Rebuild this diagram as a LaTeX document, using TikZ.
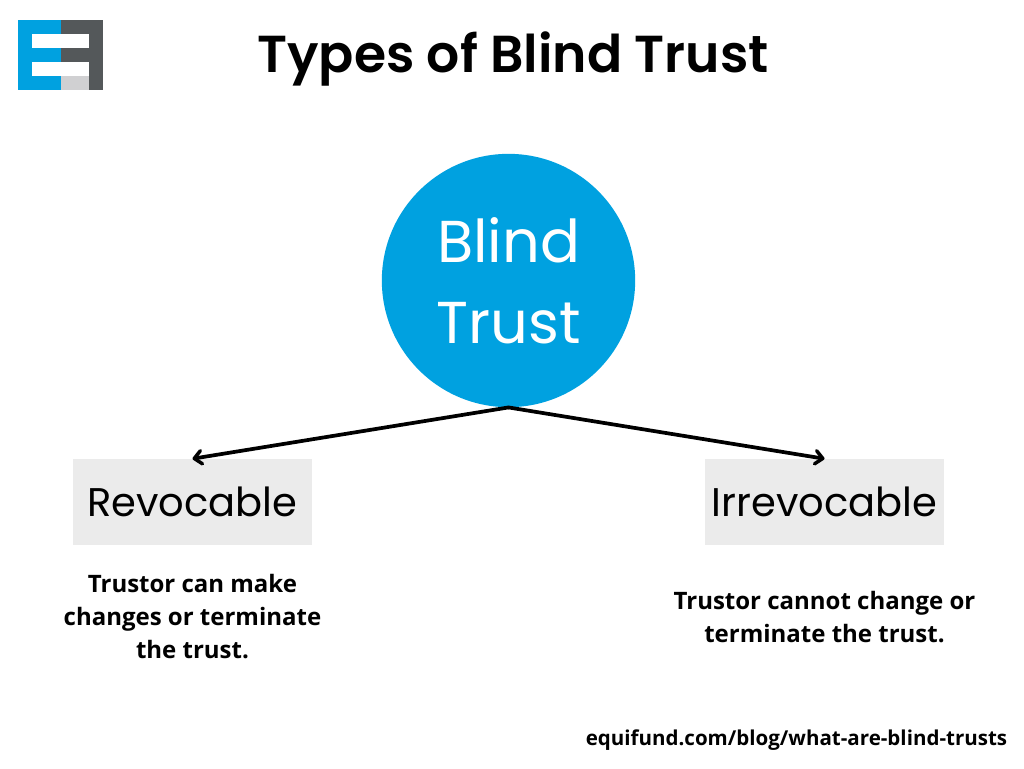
\documentclass[tikz,border=0pt]{standalone}
\usepackage{fontspec}
\setmainfont{Poppins}
\newfontfamily\opensans{Open Sans}
\newfontfamily\poppinssemi{Poppins SemiBold}
\usetikzlibrary{arrows.meta}
\definecolor{equiblue}{HTML}{00A1E0}
\definecolor{equidark}{HTML}{54585A}
\definecolor{equilight}{HTML}{D0D0D2}
\definecolor{boxgray}{HTML}{EBEBEB}
\tikzset{
  branch/.style = {line width = 2.8pt, line cap = round, -{Straight Barb[length = 5.5pt, width = 10pt, line width = 2.6pt, round]}},
  typebox/.style = {fill = boxgray, minimum width = 179pt, minimum height = 64.5pt, inner sep = 0pt, font = \fontsize{30}{36}\selectfont},
  note/.style = {align = center, font = \opensans\bfseries\fontsize{18}{24.8}\selectfont}
}
\begin{document}
\begin{tikzpicture}[x = 0.75pt, y = -0.75pt]
    \useasboundingbox (0, 0) rectangle (1024, 768);
    % logo
    \fill [equiblue] (18, 20) rectangle (61, 90);
    \fill [equidark] (61, 20) rectangle (103, 90);
    \fill [equilight] (61, 76) rectangle (89, 90);
    \fill [white] (32, 33.5) rectangle (89, 48);
    \fill [white] (32, 62) rectangle (89, 76);
    \node (title) at (513, 59) {\poppinssemi\fontsize{39}{46}\selectfont Types of Blind Trust};
    \node [circle, fill = equiblue, text = white, minimum size = 190pt, inner sep = 0pt, align = center,
      font = \fontsize{44.3}{61}\selectfont] (blind) at (508.5, 280.5) {Blind\\Trust};
    \node [typebox] (revocable) at (192.5, 502) {Revocable};
    \node [typebox] (irrevocable) at (824.5, 502) {Irrevocable};
    \draw [branch] (blind.south) -- (revocable.north);
    \draw [branch] (blind.south) -- (irrevocable.north);
    \node [note] (revnote) at (192.5, 616.5) {Trustor can make\\changes or terminate\\the trust.};
    \node [note] (irrnote) at (824.5, 617) {Trustor cannot change or\\terminate the trust.};
    \node [font = \opensans\bfseries\fontsize{15.4}{20}\selectfont] (source) at (796.5, 740) {equifund.com/blog/what-are-blind-trusts};
  \end{tikzpicture}
\end{document}
